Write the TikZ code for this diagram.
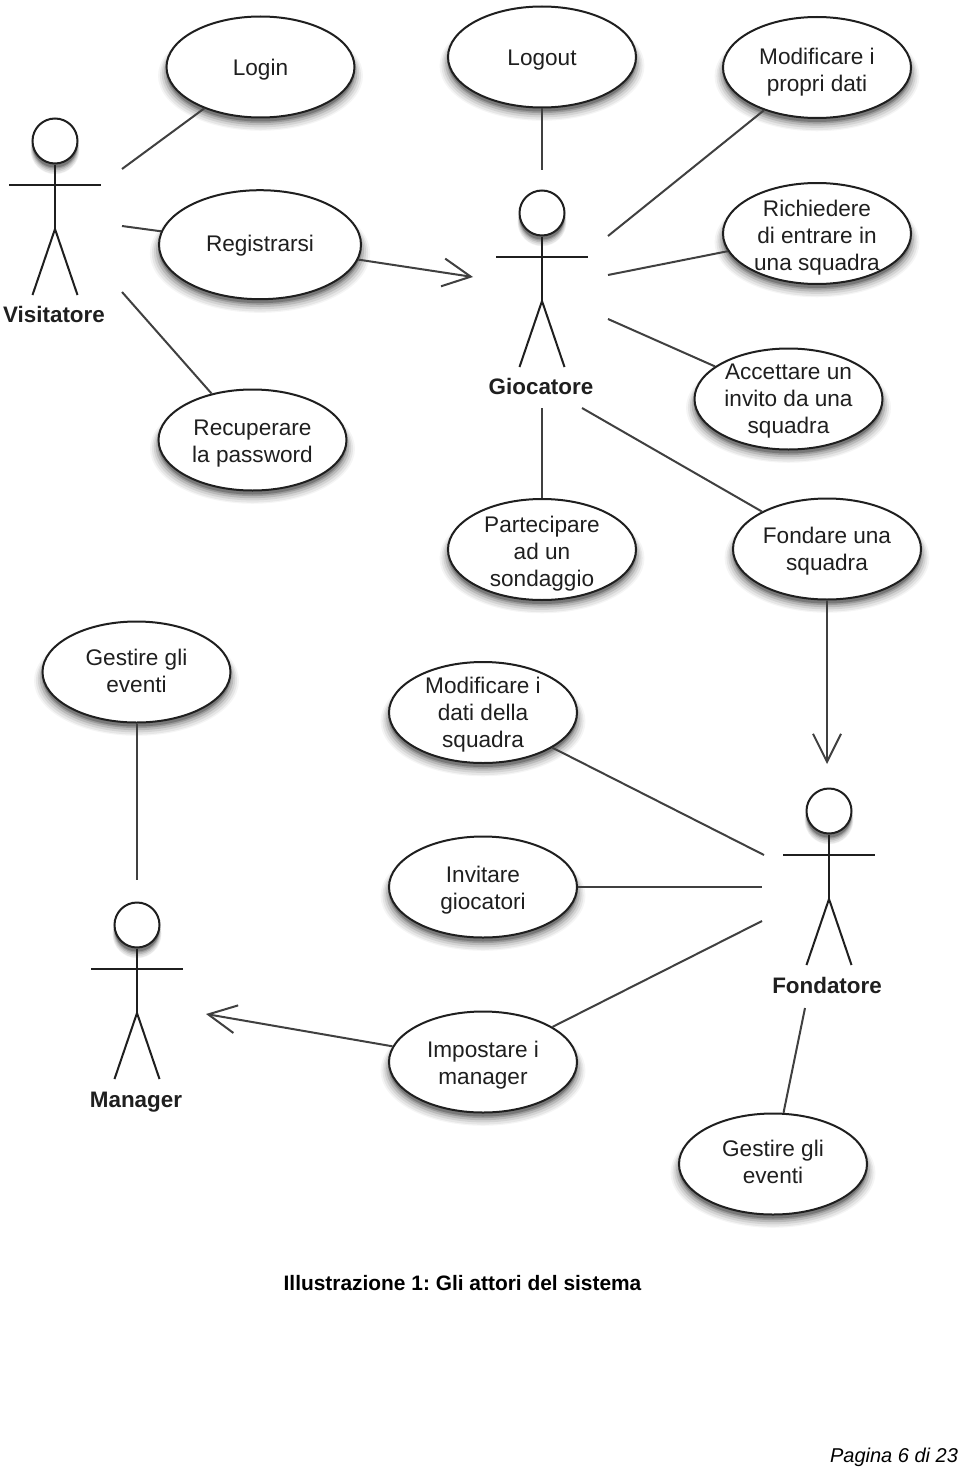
\documentclass[tikz,border=0pt]{standalone}
\usepackage{fontspec}
\setmainfont{Liberation Sans}
\usetikzlibrary{shapes.geometric,shadows,arrows.meta}
\definecolor{inkc}{gray}{0.12}
\tikzset{
  softshadow/.style={
    general shadow={shadow xshift=0pt,shadow yshift=-8pt,shadow scale=1.09,fill=black,opacity=0.04},
    general shadow={shadow xshift=0pt,shadow yshift=-8pt,shadow scale=1.07,fill=black,opacity=0.06},
    general shadow={shadow xshift=0pt,shadow yshift=-7pt,shadow scale=1.05,fill=black,opacity=0.08},
    general shadow={shadow xshift=0pt,shadow yshift=-6pt,shadow scale=1.03,fill=black,opacity=0.12},
    general shadow={shadow xshift=0pt,shadow yshift=-5pt,shadow scale=1.01,fill=black,opacity=0.16},
    general shadow={shadow xshift=0pt,shadow yshift=-4pt,shadow scale=1.0,fill=black,opacity=0.22}},
  usecase/.style={ellipse,draw=inkc,line width=2pt,fill=white,inner sep=0pt,
    minimum width=188pt,minimum height=101pt,text=inkc,
    font=\fontsize{22.6}{27}\selectfont,softshadow},
  headshape/.style={circle,draw=inkc,line width=2pt,fill=white,inner sep=0pt,minimum size=45pt,softshadow},
  actorlabel/.style={text=inkc,inner sep=0pt,font=\fontsize{22.4}{27}\selectfont\bfseries},
  limb/.style={draw=inkc,line width=2pt},
  assoc/.style={draw=inkc!85!white,line width=2pt},
  gener/.style={assoc,-{Straight Barb[length=28pt,width=28pt,line width=2pt]}},
}
% text of a use case: mean baseline of its lines #1 below the centre of the ellipse
\newcommand{\ct}[2]{\raisebox{-#1pt}[0pt][0pt]{\begin{tabular}{@{}c@{}}#2\end{tabular}}}
\newcommand{\umlactor}[5]{%
  \begin{scope}[shift={(#2,#3)}]
    \coordinate (#1crotch) at (0,88);
    \coordinate (#1al) at (-46,44);
    \coordinate (#1ar) at (46,44);
    \coordinate (#1ll) at (-22.5,154);
    \coordinate (#1lr) at (22.5,154);
    \node[headshape] (#1head) at (0,0) {};
    \draw[limb] (#1head.south) -- (#1crotch);
    \draw[limb] (#1al) -- (#1ar);
    \draw[limb] (#1ll) -- (#1crotch) -- (#1lr);
    \node[actorlabel] (#1) at (#4,#5) {\strut\ignorespaces#1};
  \end{scope}}
\begin{document}
\frenchspacing
\begin{tikzpicture}[x=1pt,y=-1pt]
\useasboundingbox (0,0) rectangle (960,1469);
\fill[white] (0,0) rectangle (960,1469);

% free ends of the connectors
\coordinate (vA) at (122,169);
\coordinate (vB) at (122,226);
\coordinate (vC) at (122,292);
\coordinate (gIn) at (473,277);
\coordinate (gA) at (542,170);
\coordinate (gB) at (608,236);
\coordinate (gC) at (608,275);
\coordinate (gD) at (608,319);
\coordinate (gE) at (542,408);
\coordinate (gF) at (582,408);
\coordinate (fIn) at (827,764);
\coordinate (fA) at (764,855);
\coordinate (fB) at (762,887);
\coordinate (fC) at (762,921);
\coordinate (fD) at (805,1008);
\coordinate (mA) at (137,880);
\coordinate (mIn) at (206,1014);

\node[usecase] (login) at (260.5,67) {\ct{8}{Login}};
\node[usecase] (logout) at (542,57) {\ct{8}{Logout}};
\node[usecase] (modself) at (817,67.5) {\ct{10.5}{Modificare i\\propri dati}};
\node[usecase] (richiedere) at (817,233.5) {\ct{10.2}{Richiedere\\di entrare in\\una squadra}};
\node[usecase,minimum width=202pt,minimum height=109pt] (registrarsi) at (260,244.7) {\ct{6.7}{Registrarsi}};
\node[usecase] (accettare) at (788.5,399) {\ct{7.7}{Accettare un\\invito da una\\squadra}};
\node[usecase] (recuperare) at (252.5,440) {\ct{8.5}{Recuperare\\la password}};
\node[usecase] (partecipare) at (542,549.5) {\ct{10.2}{Partecipare\\ad un\\sondaggio}};
\node[usecase] (fondare) at (827,549) {\ct{8}{Fondare una\\squadra}};
\node[usecase] (gestiretop) at (136.5,672) {\ct{6.5}{Gestire gli\\eventi}};
\node[usecase] (modteam) at (483,712.5) {\ct{7.5}{Modificare i\\dati della\\squadra}};
\node[usecase] (invitare) at (483,887) {\ct{9}{Invitare\\giocatori}};
\node[usecase] (impostare) at (483,1062) {\ct{8.3}{Impostare i\\manager}};
\node[usecase] (gestirebot) at (773,1164) {\ct{5.5}{Gestire gli\\eventi}};

\draw[assoc] (login) -- (vA);
\draw[assoc] (registrarsi) -- (vB);
\draw[assoc] (recuperare) -- (vC);
\draw[gener] (registrarsi) -- (gIn);
\draw[assoc] (logout) -- (gA);
\draw[assoc] (modself) -- (gB);
\draw[assoc] (richiedere) -- (gC);
\draw[assoc] (accettare) -- (gD);
\draw[assoc] (partecipare) -- (gE);
\draw[assoc] (fondare) -- (gF);
\draw[gener] (fondare.south -| fIn) -- (fIn);
\draw[assoc] (modteam) -- (fA);
\draw[assoc] (invitare) -- (fB);
\draw[assoc] (impostare) -- (fC);
\draw[assoc] (gestirebot) -- (fD);
\draw[assoc] (gestiretop.south -| mA) -- (mA);
\draw[gener] (impostare) -- (mIn);

% actors
\umlactor{Visitatore}{55}{141}{-1}{176}
\umlactor{Giocatore}{542}{213}{-1}{176}
\umlactor{Fondatore}{829}{811}{-2}{177}
\umlactor{Manager}{137}{925}{-1}{177}

% page text
\node[inner sep=0pt,text=black,font=\fontsize{20.9}{26}\selectfont\bfseries] (caption) at (462.5,1283) {Illustrazione 1: Gli attori del sistema};
\node[inner sep=0pt,text=black,font=\fontsize{20}{24}\selectfont\itshape] (pagenum) at (894,1457) {Pagina 6 di 23};
\end{tikzpicture}
\end{document}
